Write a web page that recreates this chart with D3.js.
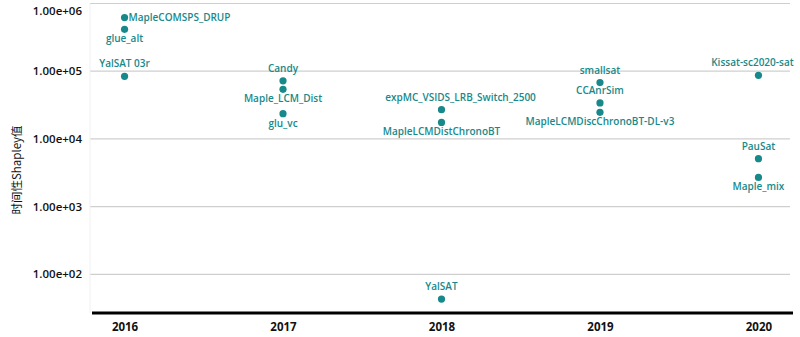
<!DOCTYPE html>
<html><head><meta charset="utf-8">
<script src="https://cdn.jsdelivr.net/npm/d3@7"></script>
<style>body{margin:0;background:#fff;}svg{display:block;}</style>
</head><body>
<svg id="c" width="800" height="337"></svg>
<script>
const years = ["2016","2017","2018","2019","2020"];
const solverNames = ["MapleCOMSPS_DRUP","glue_alt","YalSAT 03r","Candy","Maple_LCM_Dist","glu_vc","expMC_VSIDS_LRB_Switch_2500","MapleLCMDistChronoBT","YalSAT","smallsat","CCAnrSim","MapleLCMDiscChronoBT-DL-v3","Kissat-sc2020-sat","PauSat","Maple_mix"];
const solverYears = ["2016","2016","2016","2017","2017","2017","2018","2018","2018","2019","2019","2019","2020","2020","2020"];
const shapleyValues = [620000,415000,84000,72000,54000,23600,27000,17500,43,68000,34000,24700,87000,5100,2700];
const labelSide = ["right","below","above","above","below","below","above","below","above","above","above","below","above","above","below"];
const labelShift = [0,0,0,0,0,0,19,0,0,0,0,0,-6,0,0];
const yTicks = [1e2,1e3,1e4,1e5,1e6];
const yTickLabels = ["1.00e+02","1.00e+03","1.00e+04","1.00e+05","1.00e+06"];
const yTitle = "时间性Shapley值";

(function(){
const teal = "#17898a";
const svg = d3.select("#c");
const mLeft = 90, mRight = 793, mTop = 3.5, mBottom = 313;

const x = d3.scalePoint().domain(years).range([mLeft, mRight]).padding(0.218);
const y = d3.scaleLog().domain([26.8, 1e6]).range([mBottom, mTop]);

svg.append("g").selectAll("line").data(yTicks).join("line")
  .attr("x1", mLeft).attr("x2", 790)
  .attr("y1", d => y(d)).attr("y2", d => y(d))
  .attr("stroke", "#cfcfcf").attr("stroke-width", 1.2);
svg.append("line").attr("x1", mLeft).attr("x2", mLeft).attr("y1", mTop).attr("y2", mBottom)
  .attr("stroke", "#f0f0f0");

svg.append("g").selectAll("text").data(yTicks).join("text")
  .attr("x", 82).attr("y", d => Math.max(y(d), 11))
  .attr("dy", "0.35em").attr("text-anchor", "end")
  .attr("font-family", "Open Sans, sans-serif").attr("font-size", 11.5).attr("font-weight", 600)
  .attr("fill", "#111").text((d, i) => yTickLabels[i]);

svg.append("text").attr("transform", `translate(21,170) rotate(-90)`)
  .attr("text-anchor", "middle").attr("font-family", "Noto Sans CJK SC, sans-serif")
  .attr("font-size", 11.5).attr("fill", "#111").text(yTitle);

const xAxis = d3.axisBottom(x).tickSize(0).tickPadding(10);
const gx = svg.append("g").attr("transform", `translate(0,${mBottom})`).call(xAxis);
gx.select(".domain").attr("stroke", "#000").attr("stroke-width", 3).attr("d", `M${mLeft+2},0H${mRight}`);
gx.selectAll("text").attr("font-family", "Open Sans, sans-serif").attr("font-size", 11.5)
  .attr("font-weight", 700).attr("fill", "#111");

const pts = shapleyValues.map((v, i) => ({v, year: solverYears[i], name: solverNames[i], side: labelSide[i], shift: labelShift[i]}));
svg.append("g").selectAll("circle").data(pts).join("circle")
  .attr("cx", d => x(d.year)).attr("cy", d => y(d.v)).attr("r", 3.6).attr("fill", teal);

svg.append("g").selectAll("text").data(pts).join("text")
  .attr("x", d => (d.side === "right" ? x(d.year) + 4 : x(d.year)) + d.shift)
  .attr("y", d => d.side === "right" ? y(d.v) + 3.5 : d.side === "above" ? y(d.v) - 9 : y(d.v) + 13)
  .attr("text-anchor", d => d.side === "right" ? "start" : "middle")
  .attr("font-family", "Open Sans, sans-serif").attr("font-size", 10).attr("font-weight", 600)
  .attr("fill", teal).text(d => d.name);
})();
</script>
</body></html>
